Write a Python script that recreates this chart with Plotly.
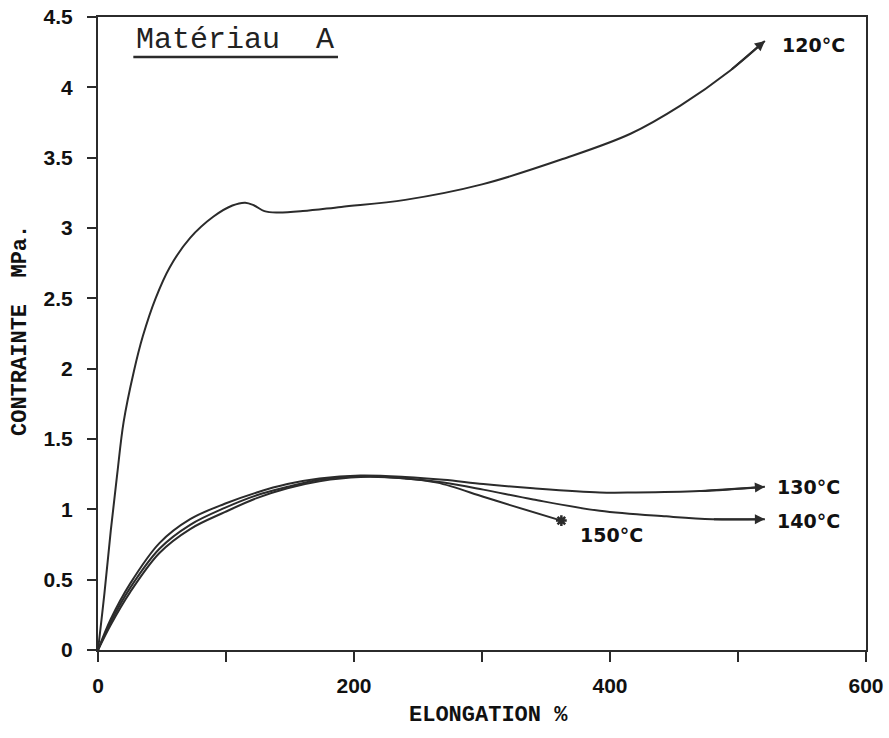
import plotly.graph_objects as go

# ---- data ----
x120 = [0, 5, 10, 15, 20, 28, 35, 45, 56, 72, 90, 105, 115, 122, 130, 140, 160, 190, 240, 300, 363, 416, 455, 494, 521]
y120 = [0, 0.40, 0.85, 1.25, 1.62, 1.98, 2.23, 2.50, 2.72, 2.93, 3.08, 3.16, 3.18, 3.16, 3.12, 3.11, 3.12, 3.15, 3.20, 3.31, 3.49, 3.67, 3.87, 4.12, 4.33]

x130 = [0, 10, 25, 48, 72, 99, 124, 148, 173, 205, 240, 270, 301, 340, 392, 420, 470, 521]
y130 = [0, 0.22, 0.47, 0.76, 0.93, 1.04, 1.12, 1.18, 1.22, 1.24, 1.23, 1.21, 1.18, 1.15, 1.12, 1.12, 1.13, 1.16]

x140 = [0, 10, 25, 48, 72, 99, 124, 148, 173, 205, 240, 270, 301, 340, 392, 444, 480, 521]
y140 = [0, 0.20, 0.44, 0.72, 0.89, 1.01, 1.10, 1.16, 1.21, 1.235, 1.22, 1.19, 1.14, 1.07, 0.99, 0.95, 0.93, 0.93]

x150 = [0, 10, 25, 48, 72, 99, 124, 148, 173, 205, 240, 265, 301, 322, 362]
y150 = [0, 0.18, 0.41, 0.69, 0.86, 0.98, 1.08, 1.15, 1.20, 1.23, 1.22, 1.19, 1.09, 1.03, 0.92]

series_names = ["120°C", "130°C", "140°C", "150°C"]
label_pos = {"120°C": (533, 4.30), "130°C": (529, 1.16), "140°C": (529, 0.92), "150°C": (375, 0.82)}

x_tickvals = [0, 100, 200, 300, 400, 500, 600]
x_ticktext = ["0", "", "200", "", "400", "", "600"]
y_tickvals = [0, 0.5, 1, 1.5, 2, 2.5, 3, 3.5, 4, 4.5]
y_ticktext = ["0", "0.5", "1", "1.5", "2", "2.5", "3", "3.5", "4", "4.5"]

title_text = "Matériau\u00a0 A"
x_title = "ELONGATION %"
y_title = "CONTRAINTE\u00a0 MPa."

# ---- figure ----
INK = "#2b2b2b"
fig = go.Figure()
series = [(x120, y120), (x130, y130), (x140, y140), (x150, y150)]
for name, (xs, ys) in zip(series_names, series):
    fig.add_trace(go.Scatter(x=xs, y=ys, mode="lines", name=name,
                             line=dict(color=INK, width=2, shape="spline", smoothing=1.0),
                             showlegend=False, hoverinfo="skip"))

# arrow heads at the ends of 120, 130, 140
for xs, ys in [(x120, y120), (x130, y130), (x140, y140)]:
    fig.add_annotation(x=xs[-1], y=ys[-1], ax=xs[-2], ay=ys[-2], axref="x", ayref="y",
                       xref="x", yref="y", text="", showarrow=True, arrowhead=2,
                       arrowsize=1.0, arrowwidth=2, arrowcolor=INK, standoff=0)

# star at the end of 150
fig.add_trace(go.Scatter(x=[x150[-1]], y=[y150[-1]], mode="markers", showlegend=False,
                         hoverinfo="skip",
                         marker=dict(symbol="asterisk-open", size=9, color=INK,
                                     line=dict(color=INK, width=2.5))))

lab_font = dict(family="DejaVu Sans, sans-serif", size=19, color="#111", weight="bold")
for name in series_names:
    lx, ly = label_pos[name]
    fig.add_annotation(x=lx, y=ly, xref="x", yref="y", text=name, showarrow=False,
                       xanchor="left", yanchor="middle", font=lab_font)

# title text
fig.add_annotation(x=0.047, y=0.9637, xref="paper", yref="paper", text=title_text,
                   showarrow=False, xanchor="left", yanchor="middle",
                   font=dict(family="Liberation Mono, Courier New, monospace", size=30, color="#222"))
fig.add_shape(type="line", xref="paper", yref="paper", x0=0.046, x1=0.3125, y0=0.937, y1=0.937,
              line=dict(color=INK, width=2.5))

mono = dict(family="Liberation Mono, Courier New, monospace", size=22, color="#111", weight="bold")
fig.add_annotation(x=0.508, y=-0.103, xref="paper", yref="paper", text=x_title, showarrow=False,
                   xanchor="center", yanchor="middle", font=mono)
fig.add_annotation(x=-0.1016, y=0.5055, xref="paper", yref="paper", text=y_title, showarrow=False,
                   xanchor="center", yanchor="middle", textangle=-90, font=mono)

tick_font = dict(family="Liberation Sans, Arial, sans-serif", size=21, color="#111", weight="bold")
fig.update_xaxes(range=[0, 600], tickvals=x_tickvals, ticktext=x_ticktext, ticks="outside",
                 ticklen=10, tickwidth=2, tickcolor=INK, showline=True, linewidth=2, linecolor=INK,
                 mirror=True, showgrid=False, zeroline=False, tickfont=tick_font, ticklabelstandoff=6,
                 automargin=False)
fig.update_yaxes(range=[0, 4.5], tickvals=y_tickvals, ticktext=y_ticktext, ticks="outside",
                 ticklen=9, tickwidth=2, tickcolor=INK, showline=True, linewidth=2, linecolor=INK,
                 mirror=True, showgrid=False, zeroline=False, tickfont=tick_font, ticklabelstandoff=10,
                 automargin=False)

fig.update_layout(width=889, height=738, margin=dict(l=98, r=23, t=17, b=88, autoexpand=False),
                  plot_bgcolor="white", paper_bgcolor="white")

fig.write_html("out.html")
